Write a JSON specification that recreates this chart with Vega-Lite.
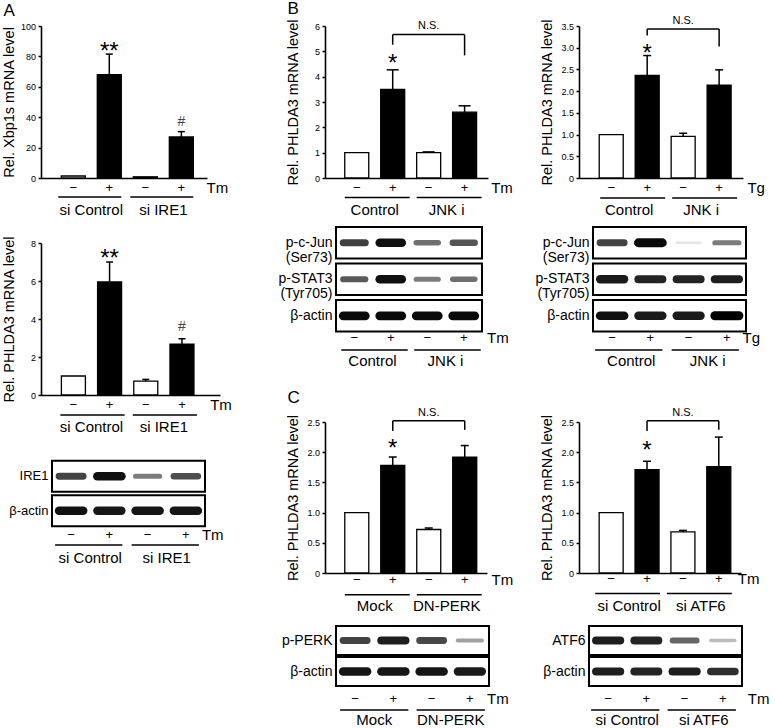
{
"$schema": "https://vega.github.io/schema/vega-lite/v6.json",
"background": "white",
"padding": {"left": 0, "top": 0, "right": 0, "bottom": 0},
"spacing": 21,
"hconcat": [
{"vconcat": [
 {"width": 166, "height": 152,
  "title": {"text": "A", "offset": 2.5, "dx": 2.5},
  "data": {"values": [
   {"lane": 1, "group": "si Control", "tm": "−", "val": 1.3},
   {"lane": 2, "group": "si Control", "tm": "+", "val": 68, "hi": 81.5, "sig": "**"},
   {"lane": 3, "group": "si IRE1", "tm": "−", "val": 0.8},
   {"lane": 4, "group": "si IRE1", "tm": "+", "val": 27, "hi": 30.5, "sig": "#"}]},
  "layer": [
   {"mark": {"type": "bar", "orient": "vertical", "width": 24, "stroke": "black", "strokeWidth": 1.3},
    "encoding": {
     "x": {"field": "lane", "type": "quantitative", "scale": {"domain": [0.243, 4.574], "nice": false, "zero": false}, "axis": {"title": null, "labels": false, "ticks": false}},
     "y": {"field": "val", "type": "quantitative", "scale": {"domain": [0, 100], "nice": false}, "axis": {"title": "Rel. Xbp1s mRNA level", "values": [0, 20, 40, 60, 80, 100], "tickCount": 20, "format": "d", "labelOverlap": false}},
     "fill": {"field": "tm", "type": "nominal", "scale": {"domain": ["−", "+"], "range": ["white", "black"]}, "legend": null}}},
   {"transform": [{"filter": "isValid(datum.hi)"}], "mark": {"type": "rule", "color": "black", "strokeWidth": 1.5},
    "encoding": {"x": {"field": "lane", "type": "quantitative"}, "y": {"field": "val", "type": "quantitative"}, "y2": {"field": "hi"}}},
   {"transform": [{"filter": "isValid(datum.hi)"}], "mark": {"type": "rule", "color": "black", "strokeWidth": 1.5, "xOffset": -3.5, "x2Offset": 3.5},
    "encoding": {"x": {"field": "lane", "type": "quantitative"}, "x2": {"field": "lane"}, "y": {"field": "hi", "type": "quantitative"}}},
   {"transform": [{"filter": "datum.sig == '*' || datum.sig == '**'"}], "mark": {"type": "text", "fontSize": 24, "baseline": "alphabetic", "dy": 5},
    "encoding": {"x": {"field": "lane", "type": "quantitative"}, "y": {"field": "hi", "type": "quantitative"}, "text": {"field": "sig"}}},
   {"transform": [{"filter": "datum.sig == '#'"}], "mark": {"type": "text", "fontSize": 14, "color": "#444444", "baseline": "alphabetic", "dy": -6},
    "encoding": {"x": {"field": "lane", "type": "quantitative"}, "y": {"field": "hi", "type": "quantitative"}, "text": {"field": "sig"}}},
   {"mark": {"type": "text", "fontSize": 13, "baseline": "middle"},
    "encoding": {"x": {"field": "lane", "type": "quantitative"}, "y": {"datum": -6.6}, "text": {"field": "tm"}}},
   {"transform": [{"aggregate": [{"op": "min", "field": "lane", "as": "first"}, {"op": "max", "field": "lane", "as": "last"}, {"op": "mean", "field": "lane", "as": "mid"}], "groupby": ["group"]}],
    "layer": [
     {"mark": {"type": "rule", "color": "black", "strokeWidth": 1.5, "xOffset": -15, "x2Offset": 12},
      "encoding": {"x": {"field": "first", "type": "quantitative"}, "x2": {"field": "last"}, "y": {"datum": -12.5}}},
     {"mark": {"type": "text", "fontSize": 15, "baseline": "middle"},
      "encoding": {"x": {"field": "mid", "type": "quantitative"}, "y": {"datum": -21}, "text": {"field": "group"}}}]},
   {"data": {"values": [{"agent": "Tm"}]}, "mark": {"type": "text", "fontSize": 15, "align": "left", "baseline": "middle"},
    "encoding": {"x": {"datum": 4.70}, "y": {"datum": -6.6}, "text": {"field": "agent"}}}
  ]},
 {"width": 179, "height": 152,
  "data": {"values": [
   {"lane": 1, "group": "si Control", "tm": "−", "val": 1.0},
   {"lane": 2, "group": "si Control", "tm": "+", "val": 5.95, "hi": 7.0, "sig": "**"},
   {"lane": 3, "group": "si IRE1", "tm": "−", "val": 0.73, "hi": 0.82},
   {"lane": 4, "group": "si IRE1", "tm": "+", "val": 2.68, "hi": 2.96, "sig": "#"}]},
  "layer": [
   {"mark": {"type": "bar", "orient": "vertical", "width": 24, "stroke": "black", "strokeWidth": 1.3},
    "encoding": {
     "x": {"field": "lane", "type": "quantitative", "scale": {"domain": [0.243, 4.913], "nice": false, "zero": false}, "axis": {"title": null, "labels": false, "ticks": false}},
     "y": {"field": "val", "type": "quantitative", "scale": {"domain": [0, 8], "nice": false}, "axis": {"title": "Rel. PHLDA3 mRNA level", "values": [0, 2, 4, 6, 8], "tickCount": 20, "format": "d", "labelOverlap": false}},
     "fill": {"field": "tm", "type": "nominal", "scale": {"domain": ["−", "+"], "range": ["white", "black"]}, "legend": null}}},
   {"transform": [{"filter": "isValid(datum.hi)"}], "mark": {"type": "rule", "color": "black", "strokeWidth": 1.5},
    "encoding": {"x": {"field": "lane", "type": "quantitative"}, "y": {"field": "val", "type": "quantitative"}, "y2": {"field": "hi"}}},
   {"transform": [{"filter": "isValid(datum.hi)"}], "mark": {"type": "rule", "color": "black", "strokeWidth": 1.5, "xOffset": -3.5, "x2Offset": 3.5},
    "encoding": {"x": {"field": "lane", "type": "quantitative"}, "x2": {"field": "lane"}, "y": {"field": "hi", "type": "quantitative"}}},
   {"transform": [{"filter": "datum.sig == '*' || datum.sig == '**'"}], "mark": {"type": "text", "fontSize": 24, "baseline": "alphabetic", "dy": 4},
    "encoding": {"x": {"field": "lane", "type": "quantitative"}, "y": {"field": "hi", "type": "quantitative"}, "text": {"field": "sig"}}},
   {"transform": [{"filter": "datum.sig == '#'"}], "mark": {"type": "text", "fontSize": 14, "color": "#444444", "baseline": "alphabetic", "dy": -8},
    "encoding": {"x": {"field": "lane", "type": "quantitative"}, "y": {"field": "hi", "type": "quantitative"}, "text": {"field": "sig"}}},
   {"mark": {"type": "text", "fontSize": 13, "baseline": "middle"},
    "encoding": {"x": {"field": "lane", "type": "quantitative"}, "y": {"datum": -0.53}, "text": {"field": "tm"}}},
   {"transform": [{"aggregate": [{"op": "min", "field": "lane", "as": "first"}, {"op": "max", "field": "lane", "as": "last"}, {"op": "mean", "field": "lane", "as": "mid"}], "groupby": ["group"]}],
    "layer": [
     {"mark": {"type": "rule", "color": "black", "strokeWidth": 1.5, "xOffset": -13, "x2Offset": 15},
      "encoding": {"x": {"field": "first", "type": "quantitative"}, "x2": {"field": "last"}, "y": {"datum": -1.05}}},
     {"mark": {"type": "text", "fontSize": 15, "baseline": "middle"},
      "encoding": {"x": {"field": "mid", "type": "quantitative"}, "y": {"datum": -1.68}, "text": {"field": "group"}}}]},
   {"data": {"values": [{"agent": "Tm"}]}, "mark": {"type": "text", "fontSize": 15, "align": "left", "baseline": "middle"},
    "encoding": {"x": {"datum": 4.78}, "y": {"datum": -0.53}, "text": {"field": "agent"}}}
  ]},
 {"width": 164, "height": 67,
  "data": {"values": [
   {"protein": "IRE1", "lane": 1, "group": "si Control", "tm": "−", "intensity": 0.7},
   {"protein": "IRE1", "lane": 2, "group": "si Control", "tm": "+", "intensity": 0.95},
   {"protein": "IRE1", "lane": 3, "group": "si IRE1", "tm": "−", "intensity": 0.45},
   {"protein": "IRE1", "lane": 4, "group": "si IRE1", "tm": "+", "intensity": 0.65},
   {"protein": "β-actin", "lane": 1, "group": "si Control", "tm": "−", "intensity": 0.95},
   {"protein": "β-actin", "lane": 2, "group": "si Control", "tm": "+", "intensity": 0.92},
   {"protein": "β-actin", "lane": 3, "group": "si IRE1", "tm": "−", "intensity": 0.93},
   {"protein": "β-actin", "lane": 4, "group": "si IRE1", "tm": "+", "intensity": 0.93}]},
  "layer": [
   {"transform": [{"filter": "datum.lane == 1"}],
    "mark": {"type": "rect", "fill": "white", "stroke": "black", "strokeWidth": 2},
    "encoding": {
     "x": {"datum": 0.5, "type": "quantitative", "scale": {"domain": [0.2124, 4.5], "nice": false, "zero": false}, "axis": null},
     "x2": {"datum": 4.5},
     "y": {"field": "protein", "type": "nominal", "sort": null, "scale": {"domain": ["IRE1", "β-actin"], "paddingInner": 0.1, "paddingOuter": 0.02, "align": 0.5},
      "axis": {"title": null, "domain": false, "ticks": false, "tickSize": 0, "labelFontSize": 13, "labelPadding": 4, "offset": -11, "labelExpr": "split(datum.label, '|')", "labelLineHeight": 15}}}},
   {"mark": {"type": "rule", "strokeCap": "round", "xOffset": -12, "x2Offset": 12},
    "encoding": {
     "x": {"field": "lane", "type": "quantitative", "axis": null}, "x2": {"field": "lane"},
     "y": {"field": "protein", "type": "nominal"},
     "color": {"field": "intensity", "type": "quantitative", "scale": {"domain": [0, 1], "range": ["#f0f0f0", "#000000"]}, "legend": null},
     "size": {"field": "intensity", "type": "quantitative", "scale": {"domain": [0, 1], "range": [2, 9]}, "legend": null}}},
   {"transform": [{"filter": "datum.protein == 'β-actin'"}],
    "layer": [
     {"mark": {"type": "text", "fontSize": 13, "baseline": "middle"},
      "encoding": {"x": {"field": "lane", "type": "quantitative", "axis": null}, "y": {"field": "protein", "type": "nominal", "bandPosition": 1.28}, "text": {"field": "tm"}}},
     {"transform": [{"filter": "datum.lane == 4"}], "mark": {"type": "text", "fontSize": 15, "align": "left", "baseline": "middle"},
      "encoding": {"x": {"datum": 4.42, "axis": null}, "y": {"field": "protein", "type": "nominal", "bandPosition": 1.28}, "text": {"value": "Tm"}}},
     {"transform": [{"aggregate": [{"op": "min", "field": "lane", "as": "first"}, {"op": "max", "field": "lane", "as": "last"}, {"op": "mean", "field": "lane", "as": "mid"}], "groupby": ["group", "protein"]}],
      "layer": [
       {"mark": {"type": "rule", "color": "black", "strokeWidth": 1.5, "xOffset": -16, "x2Offset": 13},
        "encoding": {"x": {"field": "first", "type": "quantitative", "axis": null}, "x2": {"field": "last"}, "y": {"field": "protein", "type": "nominal", "bandPosition": 1.6}}},
       {"mark": {"type": "text", "fontSize": 15, "baseline": "middle"},
        "encoding": {"x": {"field": "mid", "type": "quantitative", "axis": null}, "y": {"field": "protein", "type": "nominal", "bandPosition": 2.02}, "text": {"field": "group"}}}]}
    ]}
  ]},
 {"width": 216, "height": 1, "data": {"values": []}, "mark": "point", "encoding": {}}
], "spacing": 65, "bounds": "flush"},

{"vconcat": [
 {"width": 163, "height": 152,
  "title": {"text": "B", "offset": 0.6, "dx": 2.5},
  "data": {"values": [
   {"lane": 1, "group": "Control", "tm": "−", "val": 1.0},
   {"lane": 2, "group": "Control", "tm": "+", "val": 3.5, "hi": 4.27, "sig": "*"},
   {"lane": 3, "group": "JNK i", "tm": "−", "val": 1.0, "hi": 1.03},
   {"lane": 4, "group": "JNK i", "tm": "+", "val": 2.6, "hi": 2.85}]},
  "layer": [
   {"mark": {"type": "bar", "orient": "vertical", "width": 24, "stroke": "black", "strokeWidth": 1.3},
    "encoding": {
     "x": {"field": "lane", "type": "quantitative", "scale": {"domain": [0.256, 4.512], "nice": false, "zero": false}, "axis": {"title": null, "labels": false, "ticks": false}},
     "y": {"field": "val", "type": "quantitative", "scale": {"domain": [0, 6], "nice": false}, "axis": {"title": "Rel. PHLDA3 mRNA level", "values": [0, 1, 2, 3, 4, 5, 6], "tickCount": 20, "format": "d", "labelOverlap": false}},
     "fill": {"field": "tm", "type": "nominal", "scale": {"domain": ["−", "+"], "range": ["white", "black"]}, "legend": null}}},
   {"transform": [{"filter": "isValid(datum.hi)"}], "mark": {"type": "rule", "color": "black", "strokeWidth": 1.5},
    "encoding": {"x": {"field": "lane", "type": "quantitative"}, "y": {"field": "val", "type": "quantitative"}, "y2": {"field": "hi"}}},
   {"transform": [{"filter": "isValid(datum.hi)"}], "mark": {"type": "rule", "color": "black", "strokeWidth": 1.5, "xOffset": -6, "x2Offset": 6},
    "encoding": {"x": {"field": "lane", "type": "quantitative"}, "x2": {"field": "lane"}, "y": {"field": "hi", "type": "quantitative"}}},
   {"transform": [{"filter": "datum.sig == '*' || datum.sig == '**'"}], "mark": {"type": "text", "fontSize": 24, "baseline": "alphabetic", "dy": 1},
    "encoding": {"x": {"field": "lane", "type": "quantitative"}, "y": {"field": "hi", "type": "quantitative"}, "text": {"field": "sig"}}},
   {"mark": {"type": "text", "fontSize": 13, "baseline": "middle"},
    "encoding": {"x": {"field": "lane", "type": "quantitative"}, "y": {"datum": -0.39}, "text": {"field": "tm"}}},
   {"transform": [{"aggregate": [{"op": "min", "field": "lane", "as": "first"}, {"op": "max", "field": "lane", "as": "last"}, {"op": "mean", "field": "lane", "as": "mid"}], "groupby": ["group"]}],
    "layer": [
     {"mark": {"type": "rule", "color": "black", "strokeWidth": 1.5, "xOffset": -12, "x2Offset": 17},
      "encoding": {"x": {"field": "first", "type": "quantitative"}, "x2": {"field": "last"}, "y": {"datum": -0.77}}},
     {"mark": {"type": "text", "fontSize": 15, "baseline": "middle"},
      "encoding": {"x": {"field": "mid", "type": "quantitative"}, "y": {"datum": -1.26}, "text": {"field": "group"}}}]},
   {"data": {"values": [{"agent": "Tm"}]}, "mark": {"type": "text", "fontSize": 15, "align": "left", "baseline": "middle"},
    "encoding": {"x": {"datum": 4.74}, "y": {"datum": -0.39}, "text": {"field": "agent"}}},
   {"data": {"values": [{"from": 2, "to": 4, "mid": 3, "top": 5.66, "lo1": 5.26, "lo2": 4.84, "label": "N.S."}]},
    "layer": [
     {"mark": {"type": "rule", "color": "black", "strokeWidth": 1.5}, "encoding": {"x": {"field": "from", "type": "quantitative"}, "x2": {"field": "to"}, "y": {"field": "top", "type": "quantitative"}}},
     {"mark": {"type": "rule", "color": "black", "strokeWidth": 1.5}, "encoding": {"x": {"field": "from", "type": "quantitative"}, "y": {"field": "top", "type": "quantitative"}, "y2": {"field": "lo1"}}},
     {"mark": {"type": "rule", "color": "black", "strokeWidth": 1.5}, "encoding": {"x": {"field": "to", "type": "quantitative"}, "y": {"field": "top", "type": "quantitative"}, "y2": {"field": "lo2"}}},
     {"mark": {"type": "text", "fontSize": 11, "baseline": "middle", "dy": -9}, "encoding": {"x": {"field": "mid", "type": "quantitative"}, "y": {"field": "top", "type": "quantitative"}, "text": {"field": "label"}}}]}
  ]},
 {"width": 157, "height": 146,
  "data": {"values": [
   {"protein": "p-c-Jun|(Ser73)", "lane": 1, "group": "Control", "tm": "−", "intensity": 0.72},
   {"protein": "p-c-Jun|(Ser73)", "lane": 2, "group": "Control", "tm": "+", "intensity": 0.95},
   {"protein": "p-c-Jun|(Ser73)", "lane": 3, "group": "JNK i", "tm": "−", "intensity": 0.5},
   {"protein": "p-c-Jun|(Ser73)", "lane": 4, "group": "JNK i", "tm": "+", "intensity": 0.62},
   {"protein": "p-STAT3|(Tyr705)", "lane": 1, "group": "Control", "tm": "−", "intensity": 0.6},
   {"protein": "p-STAT3|(Tyr705)", "lane": 2, "group": "Control", "tm": "+", "intensity": 0.95},
   {"protein": "p-STAT3|(Tyr705)", "lane": 3, "group": "JNK i", "tm": "−", "intensity": 0.45},
   {"protein": "p-STAT3|(Tyr705)", "lane": 4, "group": "JNK i", "tm": "+", "intensity": 0.5},
   {"protein": "β-actin", "lane": 1, "group": "Control", "tm": "−", "intensity": 0.97},
   {"protein": "β-actin", "lane": 2, "group": "Control", "tm": "+", "intensity": 0.97},
   {"protein": "β-actin", "lane": 3, "group": "JNK i", "tm": "−", "intensity": 0.97},
   {"protein": "β-actin", "lane": 4, "group": "JNK i", "tm": "+", "intensity": 0.97}]},
  "layer": [
   {"transform": [{"filter": "datum.lane == 1"}],
    "mark": {"type": "rect", "fill": "white", "stroke": "black", "strokeWidth": 2},
    "encoding": {
     "x": {"datum": 0.5, "type": "quantitative", "scale": {"domain": [0.1986, 4.5], "nice": false, "zero": false}, "axis": null},
     "x2": {"datum": 4.5},
     "y": {"field": "protein", "type": "nominal", "sort": null, "scale": {"domain": ["p-c-Jun|(Ser73)", "p-STAT3|(Tyr705)", "β-actin"], "paddingInner": 0.137, "paddingOuter": 0.568, "align": 0},
      "axis": {"title": null, "domain": false, "ticks": false, "tickSize": 0, "labelFontSize": 14, "labelPadding": 4, "offset": -11, "labelExpr": "split(datum.label, '|')", "labelLineHeight": 15}}}},
   {"mark": {"type": "rule", "strokeCap": "round", "xOffset": -11, "x2Offset": 11},
    "encoding": {
     "x": {"field": "lane", "type": "quantitative", "axis": null}, "x2": {"field": "lane"},
     "y": {"field": "protein", "type": "nominal"},
     "color": {"field": "intensity", "type": "quantitative", "scale": {"domain": [0, 1], "range": ["#f0f0f0", "#000000"]}, "legend": null},
     "size": {"field": "intensity", "type": "quantitative", "scale": {"domain": [0, 1], "range": [2, 9]}, "legend": null}}},
   {"transform": [{"filter": "datum.protein == 'β-actin'"}],
    "layer": [
     {"mark": {"type": "text", "fontSize": 13, "baseline": "middle"},
      "encoding": {"x": {"field": "lane", "type": "quantitative", "axis": null}, "y": {"field": "protein", "type": "nominal", "bandPosition": 1.21}, "text": {"field": "tm"}}},
     {"transform": [{"filter": "datum.lane == 4"}], "mark": {"type": "text", "fontSize": 15, "align": "left", "baseline": "middle"},
      "encoding": {"x": {"datum": 4.64, "axis": null}, "y": {"field": "protein", "type": "nominal", "bandPosition": 1.21}, "text": {"value": "Tm"}}},
     {"transform": [{"aggregate": [{"op": "min", "field": "lane", "as": "first"}, {"op": "max", "field": "lane", "as": "last"}, {"op": "mean", "field": "lane", "as": "mid"}], "groupby": ["group", "protein"]}],
      "layer": [
       {"mark": {"type": "rule", "color": "black", "strokeWidth": 1.5, "xOffset": -13, "x2Offset": 17},
        "encoding": {"x": {"field": "first", "type": "quantitative", "axis": null}, "x2": {"field": "last"}, "y": {"field": "protein", "type": "nominal", "bandPosition": 1.59}}},
       {"mark": {"type": "text", "fontSize": 15, "baseline": "middle"},
        "encoding": {"x": {"field": "mid", "type": "quantitative", "axis": null}, "y": {"field": "protein", "type": "nominal", "bandPosition": 1.94}, "text": {"field": "group"}}}]}
    ]}
  ]},
 {"width": 162, "height": 151,
  "title": {"text": "C", "offset": -0.7, "dx": 2.5},
  "data": {"values": [
   {"lane": 1, "group": "Mock", "tm": "−", "val": 1.0},
   {"lane": 2, "group": "Mock", "tm": "+", "val": 1.78, "hi": 1.92, "sig": "*"},
   {"lane": 3, "group": "DN-PERK", "tm": "−", "val": 0.72, "hi": 0.745},
   {"lane": 4, "group": "DN-PERK", "tm": "+", "val": 1.92, "hi": 2.11}]},
  "layer": [
   {"mark": {"type": "bar", "orient": "vertical", "width": 24, "stroke": "black", "strokeWidth": 1.3},
    "encoding": {
     "x": {"field": "lane", "type": "quantitative", "scale": {"domain": [0.256, 4.48], "nice": false, "zero": false}, "axis": {"title": null, "labels": false, "ticks": false}},
     "y": {"field": "val", "type": "quantitative", "scale": {"domain": [0, 2.5], "nice": false}, "axis": {"title": "Rel. PHLDA3 mRNA level", "values": [0, 0.5, 1, 1.5, 2, 2.5], "tickCount": 20, "labelOverlap": false, "labelExpr": "datum.value == 0 ? '0' : format(datum.value, '.1f')"}},
     "fill": {"field": "tm", "type": "nominal", "scale": {"domain": ["−", "+"], "range": ["white", "black"]}, "legend": null}}},
   {"transform": [{"filter": "isValid(datum.hi)"}], "mark": {"type": "rule", "color": "black", "strokeWidth": 1.5},
    "encoding": {"x": {"field": "lane", "type": "quantitative"}, "y": {"field": "val", "type": "quantitative"}, "y2": {"field": "hi"}}},
   {"transform": [{"filter": "isValid(datum.hi)"}], "mark": {"type": "rule", "color": "black", "strokeWidth": 1.5, "xOffset": -4, "x2Offset": 4},
    "encoding": {"x": {"field": "lane", "type": "quantitative"}, "x2": {"field": "lane"}, "y": {"field": "hi", "type": "quantitative"}}},
   {"transform": [{"filter": "datum.sig == '*' || datum.sig == '**'"}], "mark": {"type": "text", "fontSize": 24, "baseline": "alphabetic", "dy": -1},
    "encoding": {"x": {"field": "lane", "type": "quantitative"}, "y": {"field": "hi", "type": "quantitative"}, "text": {"field": "sig"}}},
   {"mark": {"type": "text", "fontSize": 13, "baseline": "middle"},
    "encoding": {"x": {"field": "lane", "type": "quantitative"}, "y": {"datum": -0.11}, "text": {"field": "tm"}}},
   {"transform": [{"aggregate": [{"op": "min", "field": "lane", "as": "first"}, {"op": "max", "field": "lane", "as": "last"}, {"op": "mean", "field": "lane", "as": "mid"}], "groupby": ["group"]}],
    "layer": [
     {"mark": {"type": "rule", "color": "black", "strokeWidth": 1.5, "xOffset": -12, "x2Offset": 17},
      "encoding": {"x": {"field": "first", "type": "quantitative"}, "x2": {"field": "last"}, "y": {"datum": -0.36}}},
     {"mark": {"type": "text", "fontSize": 15, "baseline": "middle"},
      "encoding": {"x": {"field": "mid", "type": "quantitative"}, "y": {"datum": -0.55}, "text": {"field": "group"}}}]},
   {"data": {"values": [{"agent": "Tm"}]}, "mark": {"type": "text", "fontSize": 15, "align": "left", "baseline": "middle"},
    "encoding": {"x": {"datum": 4.745}, "y": {"datum": -0.11}, "text": {"field": "agent"}}},
   {"data": {"values": [{"from": 2, "to": 4, "mid": 3, "top": 2.52, "lo1": 2.35, "lo2": 2.37, "label": "N.S."}]},
    "layer": [
     {"mark": {"type": "rule", "color": "black", "strokeWidth": 1.5}, "encoding": {"x": {"field": "from", "type": "quantitative"}, "x2": {"field": "to"}, "y": {"field": "top", "type": "quantitative"}}},
     {"mark": {"type": "rule", "color": "black", "strokeWidth": 1.5}, "encoding": {"x": {"field": "from", "type": "quantitative"}, "y": {"field": "top", "type": "quantitative"}, "y2": {"field": "lo1"}}},
     {"mark": {"type": "rule", "color": "black", "strokeWidth": 1.5}, "encoding": {"x": {"field": "to", "type": "quantitative"}, "y": {"field": "top", "type": "quantitative"}, "y2": {"field": "lo2"}}},
     {"mark": {"type": "text", "fontSize": 11, "baseline": "middle", "dy": -8}, "encoding": {"x": {"field": "mid", "type": "quantitative"}, "y": {"field": "top", "type": "quantitative"}, "text": {"field": "label"}}}]}
  ]},
 {"width": 164, "height": 66,
  "data": {"values": [
   {"protein": "p-PERK", "lane": 1, "group": "Mock", "tm": "−", "intensity": 0.7},
   {"protein": "p-PERK", "lane": 2, "group": "Mock", "tm": "+", "intensity": 0.88},
   {"protein": "p-PERK", "lane": 3, "group": "DN-PERK", "tm": "−", "intensity": 0.68},
   {"protein": "p-PERK", "lane": 4, "group": "DN-PERK", "tm": "+", "intensity": 0.3},
   {"protein": "β-actin", "lane": 1, "group": "Mock", "tm": "−", "intensity": 0.93},
   {"protein": "β-actin", "lane": 2, "group": "Mock", "tm": "+", "intensity": 0.93},
   {"protein": "β-actin", "lane": 3, "group": "DN-PERK", "tm": "−", "intensity": 0.93},
   {"protein": "β-actin", "lane": 4, "group": "DN-PERK", "tm": "+", "intensity": 0.9}]},
  "layer": [
   {"transform": [{"filter": "datum.lane == 1"}],
    "mark": {"type": "rect", "fill": "white", "stroke": "black", "strokeWidth": 2},
    "encoding": {
     "x": {"datum": 0.5, "type": "quantitative", "scale": {"domain": [0.2124, 4.5], "nice": false, "zero": false}, "axis": null},
     "x2": {"datum": 4.5},
     "y": {"field": "protein", "type": "nominal", "sort": null, "scale": {"domain": ["p-PERK", "β-actin"], "paddingInner": 0.065, "paddingOuter": 0.097, "align": 0.667},
      "axis": {"title": null, "domain": false, "ticks": false, "tickSize": 0, "labelFontSize": 14, "labelPadding": 4, "offset": -11}}}},
   {"mark": {"type": "rule", "strokeCap": "round", "xOffset": -12, "x2Offset": 12},
    "encoding": {
     "x": {"field": "lane", "type": "quantitative", "axis": null}, "x2": {"field": "lane"},
     "y": {"field": "protein", "type": "nominal"},
     "color": {"field": "intensity", "type": "quantitative", "scale": {"domain": [0, 1], "range": ["#f0f0f0", "#000000"]}, "legend": null},
     "size": {"field": "intensity", "type": "quantitative", "scale": {"domain": [0, 1], "range": [2, 9]}, "legend": null}}},
   {"transform": [{"filter": "datum.protein == 'β-actin'"}],
    "layer": [
     {"mark": {"type": "text", "fontSize": 13, "baseline": "middle"},
      "encoding": {"x": {"field": "lane", "type": "quantitative", "axis": null}, "y": {"field": "protein", "type": "nominal", "bandPosition": 1.45}, "text": {"field": "tm"}}},
     {"transform": [{"filter": "datum.lane == 4"}], "mark": {"type": "text", "fontSize": 15, "align": "left", "baseline": "middle"},
      "encoding": {"x": {"datum": 4.45, "axis": null}, "y": {"field": "protein", "type": "nominal", "bandPosition": 1.45}, "text": {"value": "Tm"}}},
     {"transform": [{"aggregate": [{"op": "min", "field": "lane", "as": "first"}, {"op": "max", "field": "lane", "as": "last"}, {"op": "mean", "field": "lane", "as": "mid"}], "groupby": ["group", "protein"]}],
      "layer": [
       {"mark": {"type": "rule", "color": "black", "strokeWidth": 1.5, "xOffset": -15, "x2Offset": 15},
        "encoding": {"x": {"field": "first", "type": "quantitative", "axis": null}, "x2": {"field": "last"}, "y": {"field": "protein", "type": "nominal", "bandPosition": 1.83}}},
       {"mark": {"type": "text", "fontSize": 15, "baseline": "middle"},
        "encoding": {"x": {"field": "mid", "type": "quantitative", "axis": null}, "y": {"field": "protein", "type": "nominal", "bandPosition": 2.17}, "text": {"field": "group"}}}]}
    ]}
  ]}
], "spacing": 49, "bounds": "flush"},

{"vconcat": [
 {"width": 164, "height": 152,
  "data": {"values": [
   {"lane": 1, "group": "Control", "tm": "−", "val": 1.0},
   {"lane": 2, "group": "Control", "tm": "+", "val": 2.36, "hi": 2.82, "sig": "*"},
   {"lane": 3, "group": "JNK i", "tm": "−", "val": 0.96, "hi": 1.03},
   {"lane": 4, "group": "JNK i", "tm": "+", "val": 2.14, "hi": 2.49}]},
  "layer": [
   {"mark": {"type": "bar", "orient": "vertical", "width": 24, "stroke": "black", "strokeWidth": 1.3},
    "encoding": {
     "x": {"field": "lane", "type": "quantitative", "scale": {"domain": [0.243, 4.525], "nice": false, "zero": false}, "axis": {"title": null, "labels": false, "ticks": false}},
     "y": {"field": "val", "type": "quantitative", "scale": {"domain": [0, 3.5], "nice": false}, "axis": {"title": "Rel. PHLDA3 mRNA level", "values": [0, 0.5, 1, 1.5, 2, 2.5, 3, 3.5], "tickCount": 20, "labelOverlap": false, "labelExpr": "datum.value == 0 ? '0' : format(datum.value, '.1f')"}},
     "fill": {"field": "tm", "type": "nominal", "scale": {"domain": ["−", "+"], "range": ["white", "black"]}, "legend": null}}},
   {"transform": [{"filter": "isValid(datum.hi)"}], "mark": {"type": "rule", "color": "black", "strokeWidth": 1.5},
    "encoding": {"x": {"field": "lane", "type": "quantitative"}, "y": {"field": "val", "type": "quantitative"}, "y2": {"field": "hi"}}},
   {"transform": [{"filter": "isValid(datum.hi)"}], "mark": {"type": "rule", "color": "black", "strokeWidth": 1.5, "xOffset": -4, "x2Offset": 4},
    "encoding": {"x": {"field": "lane", "type": "quantitative"}, "x2": {"field": "lane"}, "y": {"field": "hi", "type": "quantitative"}}},
   {"transform": [{"filter": "datum.sig == '*' || datum.sig == '**'"}], "mark": {"type": "text", "fontSize": 24, "baseline": "alphabetic", "dy": 5},
    "encoding": {"x": {"field": "lane", "type": "quantitative"}, "y": {"field": "hi", "type": "quantitative"}, "text": {"field": "sig"}}},
   {"mark": {"type": "text", "fontSize": 13, "baseline": "middle"},
    "encoding": {"x": {"field": "lane", "type": "quantitative"}, "y": {"datum": -0.23}, "text": {"field": "tm"}}},
   {"transform": [{"aggregate": [{"op": "min", "field": "lane", "as": "first"}, {"op": "max", "field": "lane", "as": "last"}, {"op": "mean", "field": "lane", "as": "mid"}], "groupby": ["group"]}],
    "layer": [
     {"mark": {"type": "rule", "color": "black", "strokeWidth": 1.5, "xOffset": -11, "x2Offset": 18},
      "encoding": {"x": {"field": "first", "type": "quantitative"}, "x2": {"field": "last"}, "y": {"datum": -0.46}}},
     {"mark": {"type": "text", "fontSize": 15, "baseline": "middle"},
      "encoding": {"x": {"field": "mid", "type": "quantitative"}, "y": {"datum": -0.74}, "text": {"field": "group"}}}]},
   {"data": {"values": [{"agent": "Tg"}]}, "mark": {"type": "text", "fontSize": 15, "align": "left", "baseline": "middle"},
    "encoding": {"x": {"datum": 4.786}, "y": {"datum": -0.23}, "text": {"field": "agent"}}},
   {"data": {"values": [{"from": 2, "to": 4, "mid": 3, "top": 3.43, "lo1": 3.28, "lo2": 3.03, "label": "N.S."}]},
    "layer": [
     {"mark": {"type": "rule", "color": "black", "strokeWidth": 1.5}, "encoding": {"x": {"field": "from", "type": "quantitative"}, "x2": {"field": "to"}, "y": {"field": "top", "type": "quantitative"}}},
     {"mark": {"type": "rule", "color": "black", "strokeWidth": 1.5}, "encoding": {"x": {"field": "from", "type": "quantitative"}, "y": {"field": "top", "type": "quantitative"}, "y2": {"field": "lo1"}}},
     {"mark": {"type": "rule", "color": "black", "strokeWidth": 1.5}, "encoding": {"x": {"field": "to", "type": "quantitative"}, "y": {"field": "top", "type": "quantitative"}, "y2": {"field": "lo2"}}},
     {"mark": {"type": "text", "fontSize": 11, "baseline": "middle", "dy": -8}, "encoding": {"x": {"field": "mid", "type": "quantitative"}, "y": {"field": "top", "type": "quantitative"}, "text": {"field": "label"}}}]}
  ]},
 {"width": 167, "height": 146,
  "data": {"values": [
   {"protein": "p-c-Jun|(Ser73)", "lane": 1, "group": "Control", "tm": "−", "intensity": 0.7},
   {"protein": "p-c-Jun|(Ser73)", "lane": 2, "group": "Control", "tm": "+", "intensity": 0.97},
   {"protein": "p-c-Jun|(Ser73)", "lane": 3, "group": "JNK i", "tm": "−", "intensity": 0.04},
   {"protein": "p-c-Jun|(Ser73)", "lane": 4, "group": "JNK i", "tm": "+", "intensity": 0.45},
   {"protein": "p-STAT3|(Tyr705)", "lane": 1, "group": "Control", "tm": "−", "intensity": 0.9},
   {"protein": "p-STAT3|(Tyr705)", "lane": 2, "group": "Control", "tm": "+", "intensity": 0.85},
   {"protein": "p-STAT3|(Tyr705)", "lane": 3, "group": "JNK i", "tm": "−", "intensity": 0.85},
   {"protein": "p-STAT3|(Tyr705)", "lane": 4, "group": "JNK i", "tm": "+", "intensity": 0.88},
   {"protein": "β-actin", "lane": 1, "group": "Control", "tm": "−", "intensity": 0.95},
   {"protein": "β-actin", "lane": 2, "group": "Control", "tm": "+", "intensity": 0.9},
   {"protein": "β-actin", "lane": 3, "group": "JNK i", "tm": "−", "intensity": 0.9},
   {"protein": "β-actin", "lane": 4, "group": "JNK i", "tm": "+", "intensity": 1.0}]},
  "layer": [
   {"transform": [{"filter": "datum.lane == 1"}],
    "mark": {"type": "rect", "fill": "white", "stroke": "black", "strokeWidth": 2},
    "encoding": {
     "x": {"datum": 0.5, "type": "quantitative", "scale": {"domain": [0.134, 4.5], "nice": false, "zero": false}, "axis": null},
     "x2": {"datum": 4.5},
     "y": {"field": "protein", "type": "nominal", "sort": null, "scale": {"domain": ["p-c-Jun|(Ser73)", "p-STAT3|(Tyr705)", "β-actin"], "paddingInner": 0.137, "paddingOuter": 0.568, "align": 0},
      "axis": {"title": null, "domain": false, "ticks": false, "tickSize": 0, "labelFontSize": 14, "labelPadding": 4, "offset": -14, "labelExpr": "split(datum.label, '|')", "labelLineHeight": 15}}}},
   {"mark": {"type": "rule", "strokeCap": "round", "xOffset": -12, "x2Offset": 12},
    "encoding": {
     "x": {"field": "lane", "type": "quantitative", "axis": null}, "x2": {"field": "lane"},
     "y": {"field": "protein", "type": "nominal"},
     "color": {"field": "intensity", "type": "quantitative", "scale": {"domain": [0, 1], "range": ["#f0f0f0", "#000000"]}, "legend": null},
     "size": {"field": "intensity", "type": "quantitative", "scale": {"domain": [0, 1], "range": [2, 9]}, "legend": null}}},
   {"transform": [{"filter": "datum.protein == 'β-actin'"}],
    "layer": [
     {"mark": {"type": "text", "fontSize": 13, "baseline": "middle"},
      "encoding": {"x": {"field": "lane", "type": "quantitative", "axis": null}, "y": {"field": "protein", "type": "nominal", "bandPosition": 1.21}, "text": {"field": "tm"}}},
     {"transform": [{"filter": "datum.lane == 4"}], "mark": {"type": "text", "fontSize": 15, "align": "left", "baseline": "middle"},
      "encoding": {"x": {"datum": 4.41, "axis": null}, "y": {"field": "protein", "type": "nominal", "bandPosition": 1.21}, "text": {"value": "Tg"}}},
     {"transform": [{"aggregate": [{"op": "min", "field": "lane", "as": "first"}, {"op": "max", "field": "lane", "as": "last"}, {"op": "mean", "field": "lane", "as": "mid"}], "groupby": ["group", "protein"]}],
      "layer": [
       {"mark": {"type": "rule", "color": "black", "strokeWidth": 1.5, "xOffset": -17, "x2Offset": 12},
        "encoding": {"x": {"field": "first", "type": "quantitative", "axis": null}, "x2": {"field": "last"}, "y": {"field": "protein", "type": "nominal", "bandPosition": 1.59}}},
       {"mark": {"type": "text", "fontSize": 15, "baseline": "middle"},
        "encoding": {"x": {"field": "mid", "type": "quantitative", "axis": null}, "y": {"field": "protein", "type": "nominal", "bandPosition": 1.94}, "text": {"field": "group"}}}]}
    ]}
  ]},
 {"width": 162, "height": 151,
  "data": {"values": [
   {"lane": 1, "group": "si Control", "tm": "−", "val": 1.0},
   {"lane": 2, "group": "si Control", "tm": "+", "val": 1.71, "hi": 1.85, "sig": "*"},
   {"lane": 3, "group": "si ATF6", "tm": "−", "val": 0.68, "hi": 0.705},
   {"lane": 4, "group": "si ATF6", "tm": "+", "val": 1.76, "hi": 2.25}]},
  "layer": [
   {"mark": {"type": "bar", "orient": "vertical", "width": 24, "stroke": "black", "strokeWidth": 1.3},
    "encoding": {
     "x": {"field": "lane", "type": "quantitative", "scale": {"domain": [0.243, 4.48], "nice": false, "zero": false}, "axis": {"title": null, "labels": false, "ticks": false}},
     "y": {"field": "val", "type": "quantitative", "scale": {"domain": [0, 2.5], "nice": false}, "axis": {"title": "Rel. PHLDA3 mRNA level", "values": [0, 0.5, 1, 1.5, 2, 2.5], "tickCount": 20, "labelOverlap": false, "labelExpr": "datum.value == 0 ? '0' : format(datum.value, '.1f')"}},
     "fill": {"field": "tm", "type": "nominal", "scale": {"domain": ["−", "+"], "range": ["white", "black"]}, "legend": null}}},
   {"transform": [{"filter": "isValid(datum.hi)"}], "mark": {"type": "rule", "color": "black", "strokeWidth": 1.5},
    "encoding": {"x": {"field": "lane", "type": "quantitative"}, "y": {"field": "val", "type": "quantitative"}, "y2": {"field": "hi"}}},
   {"transform": [{"filter": "isValid(datum.hi)"}], "mark": {"type": "rule", "color": "black", "strokeWidth": 1.5, "xOffset": -4, "x2Offset": 4},
    "encoding": {"x": {"field": "lane", "type": "quantitative"}, "x2": {"field": "lane"}, "y": {"field": "hi", "type": "quantitative"}}},
   {"transform": [{"filter": "datum.sig == '*' || datum.sig == '**'"}], "mark": {"type": "text", "fontSize": 24, "baseline": "alphabetic", "dy": -3},
    "encoding": {"x": {"field": "lane", "type": "quantitative"}, "y": {"field": "hi", "type": "quantitative"}, "text": {"field": "sig"}}},
   {"mark": {"type": "text", "fontSize": 13, "baseline": "middle"},
    "encoding": {"x": {"field": "lane", "type": "quantitative"}, "y": {"datum": -0.1}, "text": {"field": "tm"}}},
   {"transform": [{"aggregate": [{"op": "min", "field": "lane", "as": "first"}, {"op": "max", "field": "lane", "as": "last"}, {"op": "mean", "field": "lane", "as": "mid"}], "groupby": ["group"]}],
    "layer": [
     {"mark": {"type": "rule", "color": "black", "strokeWidth": 1.5, "xOffset": -16, "x2Offset": 13},
      "encoding": {"x": {"field": "first", "type": "quantitative"}, "x2": {"field": "last"}, "y": {"datum": -0.34}}},
     {"mark": {"type": "text", "fontSize": 15, "baseline": "middle"},
      "encoding": {"x": {"field": "mid", "type": "quantitative"}, "y": {"datum": -0.55}, "text": {"field": "group"}}}]},
   {"data": {"values": [{"agent": "Tm"}]}, "mark": {"type": "text", "fontSize": 15, "align": "left", "baseline": "middle"},
    "encoding": {"x": {"datum": 4.53}, "y": {"datum": -0.1}, "text": {"field": "agent"}}},
   {"data": {"values": [{"from": 2, "to": 4, "mid": 3, "top": 2.52, "lo1": 2.35, "lo2": 2.37, "label": "N.S."}]},
    "layer": [
     {"mark": {"type": "rule", "color": "black", "strokeWidth": 1.5}, "encoding": {"x": {"field": "from", "type": "quantitative"}, "x2": {"field": "to"}, "y": {"field": "top", "type": "quantitative"}}},
     {"mark": {"type": "rule", "color": "black", "strokeWidth": 1.5}, "encoding": {"x": {"field": "from", "type": "quantitative"}, "y": {"field": "top", "type": "quantitative"}, "y2": {"field": "lo1"}}},
     {"mark": {"type": "rule", "color": "black", "strokeWidth": 1.5}, "encoding": {"x": {"field": "to", "type": "quantitative"}, "y": {"field": "top", "type": "quantitative"}, "y2": {"field": "lo2"}}},
     {"mark": {"type": "text", "fontSize": 11, "baseline": "middle", "dy": -8}, "encoding": {"x": {"field": "mid", "type": "quantitative"}, "y": {"field": "top", "type": "quantitative"}, "text": {"field": "label"}}}]}
  ]},
 {"width": 163, "height": 66,
  "data": {"values": [
   {"protein": "ATF6", "lane": 1, "group": "si Control", "tm": "−", "intensity": 0.88},
   {"protein": "ATF6", "lane": 2, "group": "si Control", "tm": "+", "intensity": 0.85},
   {"protein": "ATF6", "lane": 3, "group": "si ATF6", "tm": "−", "intensity": 0.55},
   {"protein": "ATF6", "lane": 4, "group": "si ATF6", "tm": "+", "intensity": 0.2},
   {"protein": "β-actin", "lane": 1, "group": "si Control", "tm": "−", "intensity": 0.88},
   {"protein": "β-actin", "lane": 2, "group": "si Control", "tm": "+", "intensity": 0.85},
   {"protein": "β-actin", "lane": 3, "group": "si ATF6", "tm": "−", "intensity": 0.88},
   {"protein": "β-actin", "lane": 4, "group": "si ATF6", "tm": "+", "intensity": 0.8}]},
  "layer": [
   {"transform": [{"filter": "datum.lane == 1"}],
    "mark": {"type": "rect", "fill": "white", "stroke": "black", "strokeWidth": 2},
    "encoding": {
     "x": {"datum": 0.5, "type": "quantitative", "scale": {"domain": [0.2386, 4.5], "nice": false, "zero": false}, "axis": null},
     "x2": {"datum": 4.5},
     "y": {"field": "protein", "type": "nominal", "sort": null, "scale": {"domain": ["ATF6", "β-actin"], "paddingInner": 0.065, "paddingOuter": 0.097, "align": 0.667},
      "axis": {"title": null, "domain": false, "ticks": false, "tickSize": 0, "labelFontSize": 14, "labelPadding": 4, "offset": -10}}}},
   {"mark": {"type": "rule", "strokeCap": "round", "xOffset": -12, "x2Offset": 12},
    "encoding": {
     "x": {"field": "lane", "type": "quantitative", "axis": null}, "x2": {"field": "lane"},
     "y": {"field": "protein", "type": "nominal"},
     "color": {"field": "intensity", "type": "quantitative", "scale": {"domain": [0, 1], "range": ["#f0f0f0", "#000000"]}, "legend": null},
     "size": {"field": "intensity", "type": "quantitative", "scale": {"domain": [0, 1], "range": [2, 9]}, "legend": null}}},
   {"transform": [{"filter": "datum.protein == 'β-actin'"}],
    "layer": [
     {"mark": {"type": "text", "fontSize": 13, "baseline": "middle"},
      "encoding": {"x": {"field": "lane", "type": "quantitative", "axis": null}, "y": {"field": "protein", "type": "nominal", "bandPosition": 1.45}, "text": {"field": "tm"}}},
     {"transform": [{"filter": "datum.lane == 4"}], "mark": {"type": "text", "fontSize": 15, "align": "left", "baseline": "middle"},
      "encoding": {"x": {"datum": 4.65, "axis": null}, "y": {"field": "protein", "type": "nominal", "bandPosition": 1.45}, "text": {"value": "Tm"}}},
     {"transform": [{"aggregate": [{"op": "min", "field": "lane", "as": "first"}, {"op": "max", "field": "lane", "as": "last"}, {"op": "mean", "field": "lane", "as": "mid"}], "groupby": ["group", "protein"]}],
      "layer": [
       {"mark": {"type": "rule", "color": "black", "strokeWidth": 1.5, "xOffset": -17, "x2Offset": 13},
        "encoding": {"x": {"field": "first", "type": "quantitative", "axis": null}, "x2": {"field": "last"}, "y": {"field": "protein", "type": "nominal", "bandPosition": 1.83}}},
       {"mark": {"type": "text", "fontSize": 15, "baseline": "middle"},
        "encoding": {"x": {"field": "mid", "type": "quantitative", "axis": null}, "y": {"field": "protein", "type": "nominal", "bandPosition": 2.17}, "text": {"field": "group"}}}]}
    ]}
  ]}
], "spacing": 49, "bounds": "flush"}
],
"config": {
 "font": "Liberation Sans",
 "view": {"stroke": null},
 "axis": {"domainColor": "black", "domainWidth": 1.6, "tickColor": "black", "tickWidth": 1.5, "tickSize": 3, "labelColor": "black", "labelFontSize": 9, "labelPadding": 2.5, "labelOverlap": false, "labelBound": false, "titleColor": "black", "titleFontSize": 14.5, "titleFontWeight": "normal", "titlePadding": 5, "grid": false, "minExtent": 20, "maxExtent": 20},
 "title": {"fontSize": 17, "fontWeight": "normal", "anchor": "start", "baseline": "alphabetic", "color": "black"},
 "text": {"color": "black"},
 "rule": {"color": "black"}
}
}
